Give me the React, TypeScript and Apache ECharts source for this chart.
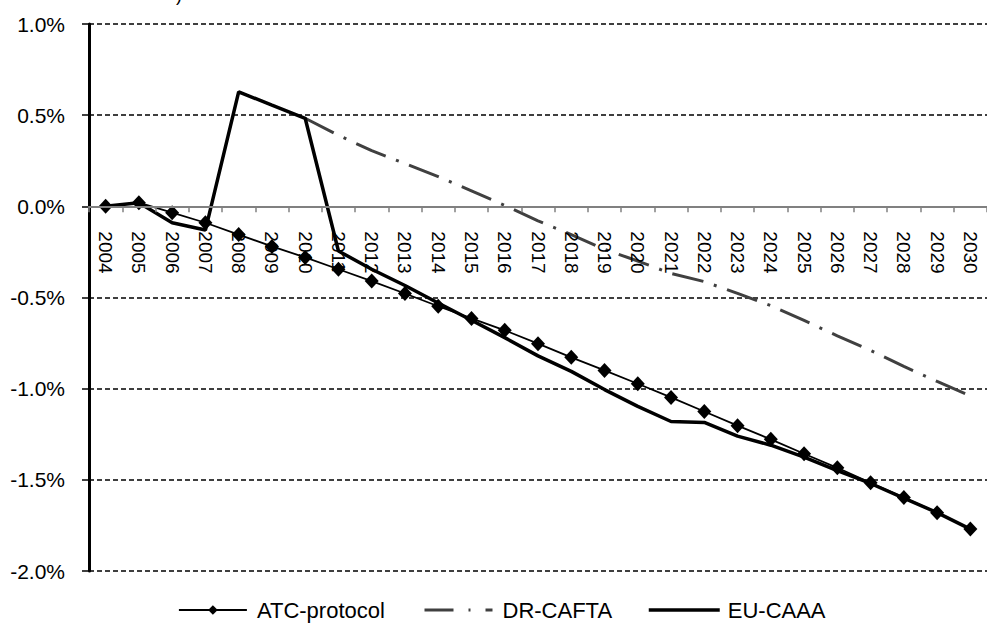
import React, { useEffect, useRef } from "react";
import * as echarts from "echarts";

const years: string[] = [
  "2004", "2005", "2006", "2007", "2008", "2009", "2010", "2011", "2012",
  "2013", "2014", "2015", "2016", "2017", "2018", "2019", "2020", "2021",
  "2022", "2023", "2024", "2025", "2026", "2027", "2028", "2029", "2030",
];

const atcProtocol: number[] = [
  0, 0.02, -0.035, -0.09, -0.155, -0.22, -0.28, -0.345, -0.41, -0.478,
  -0.548, -0.615, -0.68, -0.753, -0.828, -0.9, -0.973, -1.048, -1.125,
  -1.203, -1.278, -1.357, -1.434, -1.516, -1.597, -1.68, -1.77,
];

const drCafta: (number | null)[] = [
  null, null, null, null, null, null, 0.483, 0.39, 0.305, 0.235, 0.163,
  0.085, 0.005, -0.08, -0.155, -0.236, -0.3, -0.368, -0.413, -0.477,
  -0.545, -0.626, -0.71, -0.79, -0.878, -0.96, -1.04,
];

const euCaaa: number[] = [
  0, 0.02, -0.09, -0.13, 0.628, 0.555, 0.483, -0.245, -0.345, -0.434,
  -0.53, -0.625, -0.72, -0.82, -0.905, -1.005, -1.097, -1.18, -1.185,
  -1.26, -1.31, -1.375, -1.45, -1.52, -1.6, -1.68, -1.77,
];

const seriesNames: string[] = ["ATC-protocol", "DR-CAFTA", "EU-CAAA"];
const yTicks = { min: -2, max: 1, interval: 0.5 };

const FONT = "'Liberation Sans', Arial, sans-serif";

const GRID_TOP = 24;
const GRID_BOTTOM = 53;
const CHART_H = 624;

export default function App() {
  const ref = useRef<HTMLDivElement>(null);

  useEffect(() => {
    if (!ref.current) return;
    const chart = echarts.init(ref.current, null, { renderer: "svg" });
    const legendText = { fontFamily: FONT, fontSize: 22, color: "#000", padding: [0, 0, 0, 5] };
    const gridH = CHART_H - GRID_TOP - GRID_BOTTOM;
    // distance from grid bottom up to the zero value line
    const zeroOffset = (gridH * (0 - yTicks.min)) / (yTicks.max - yTicks.min);
    chart.setOption({
      animation: false,
      backgroundColor: "#fff",
      textStyle: { fontFamily: FONT },
      grid: { left: 89, right: -10, top: GRID_TOP, bottom: GRID_BOTTOM, containLabel: false },
      graphic: [
        {
          type: "text",
          left: 176,
          top: -14,
          style: { text: ")", font: "18px 'Liberation Sans', Arial, sans-serif", fill: "#000" },
        },
      ],
      legend: [
        {
          data: [seriesNames[0]],
          left: 178,
          top: 599,
          itemWidth: 68,
          itemHeight: 12,
          textStyle: legendText,
          padding: 0,
          lineStyle: { width: 1.8 },
        },
        {
          data: [seriesNames[1]],
          left: 423,
          top: 599,
          itemWidth: 68,
          itemHeight: 12,
          textStyle: legendText,
          padding: 0,
          itemStyle: { opacity: 0 },
          lineStyle: { width: 3, type: [29, 15, 2, 15, 7, 10] },
        },
        {
          data: [seriesNames[2]],
          left: 647,
          top: 599,
          itemWidth: 71,
          itemHeight: 12,
          textStyle: { ...legendText, padding: [0, 0, 0, 3] },
          padding: 0,
          itemStyle: { opacity: 0 },
          lineStyle: { width: 3.5 },
        },
      ],
      xAxis: {
        type: "category",
        data: years,
        boundaryGap: true,
        offset: -zeroOffset,
        axisLine: { show: true, onZero: false, lineStyle: { color: "#808080", width: 2 } },
        axisTick: { show: true, length: 6, lineStyle: { color: "#808080", width: 1.5 } },
        axisLabel: {
          rotate: -90,
          margin: 25,
          interval: 0,
          fontFamily: FONT,
          fontSize: 19,
          color: "#000",
        },
        splitLine: { show: false },
        z: 5,
      },
      yAxis: {
        type: "value",
        min: yTicks.min,
        max: yTicks.max,
        interval: yTicks.interval,
        axisLine: { show: true, lineStyle: { color: "#000", width: 3 } },
        axisTick: { show: true, length: 7, lineStyle: { color: "#000", width: 1.5 } },
        axisLabel: {
          margin: 24,
          fontFamily: FONT,
          fontSize: 21,
          color: "#000",
          formatter: (v: number) => v.toFixed(1) + "%",
        },
        splitLine: {
          show: true,
          lineStyle: { color: "#000", width: 1.5, type: [5, 3] },
        },
      },
      series: [
        {
          name: seriesNames[0],
          type: "line",
          data: atcProtocol,
          symbol: "diamond",
          symbolSize: [14, 15],
          showAllSymbol: true,
          itemStyle: { color: "#000" },
          lineStyle: { color: "#000", width: 1.8 },
          z: 3,
        },
        {
          name: seriesNames[1],
          type: "line",
          data: drCafta,
          symbol: "none",
          itemStyle: { color: "#404040" },
          lineStyle: { color: "#404040", width: 3, type: [32, 11, 3, 11] },
          z: 2,
        },
        {
          name: seriesNames[2],
          type: "line",
          data: euCaaa,
          symbol: "none",
          itemStyle: { color: "#000" },
          lineStyle: { color: "#000", width: 3.5 },
          z: 2,
        },
      ],
    });
    return () => chart.dispose();
  }, []);

  return (
    <div
      ref={ref}
      style={{ position: "absolute", left: 0, top: 0, width: 987, height: 624, background: "#fff" }}
    />
  );
}
